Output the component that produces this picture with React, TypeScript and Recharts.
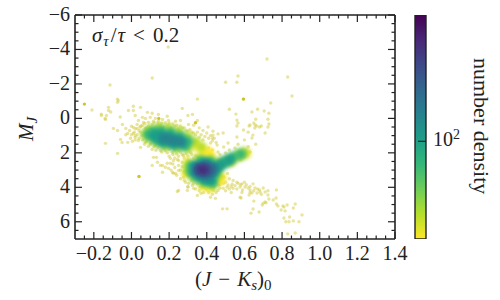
import { Bar, BarChart, Scatter, ScatterChart, XAxis, YAxis } from 'recharts';

const FONT = '"Liberation Serif", serif';
const INK = '#222222';

const xMajor = [-0.2, 0, 0.2, 0.4, 0.6, 0.8, 1, 1.2, 1.4];
const xMinor = [-0.25, -0.15, -0.1, -0.05, 0.05, 0.1, 0.15, 0.25, 0.3, 0.35, 0.45, 0.5, 0.55, 0.65, 0.7, 0.75, 0.85, 0.9, 0.95, 1.05, 1.1, 1.15, 1.25, 1.3, 1.35];
const yMajor = [-6, -4, -2, 0, 2, 4, 6];
const yMinor = [-5.5, -5, -4.5, -3.5, -3, -2.5, -1.5, -1, -0.5, 0.5, 1, 1.5, 2.5, 3, 3.5, 4.5, 5, 5.5, 6.5];

const viridisStops = ['#440154', '#482878', '#3e4989', '#31688e', '#26828e', '#1f9e89', '#35b779', '#6ece58', '#b5de2b', '#fde725'];
const colorbarRange = [40, 327];
const colorbarTicks = [100];

// scattered low density stars
const sparseStars = [
  [0.195, -4.14], [0.11, -2.34], [-0.114, -1.94], [0.5, -2.1], [0.566, -2.46], [0.56, -2.1], [0.595, -1.12], [0.35, -1.12], [-0.075, -1.12],
  [-0.21, -0.49], [-0.16, -0.25], [-0.14, 0], [-0.11, -0.37], [-0.06, -0.08], [0.72, -3.45], [0.83, -2.4], [0.853, -1.3], [0.74, -0.9],
  [0.52, -0.53], [0.555, -0.25], [0.64, -0.37], [0.67, -0.53], [0.705, -0.43], [0.73, -0.3], [0.56, 0.1], [0.66, 0.05], [0.725, 0.05],
  [0.566, 0.27], [0.65, 0.27], [0.73, 0.33], [0.56, 0.44], [0.625, 0.44], [0.665, 0.44], [0.69, 0.44], [0.725, 0.5], [0.655, 0.56],
  [0.63, 0.38], [0.657, 0.38], [0.68, 0.5], [0.62, 0.8], [0.645, 0.97], [0.71, 0.85], [0.595, 0.67], [0.64, 1.14], [0.56, 1.08], [0.6, 1.25],
  [0.566, 1.5], [0.513, 1.43], [0.66, 1.5], [0.62, 1.65], [0.433, 0.74], [0.46, 0.9], [0.487, 0.85], [0.407, 0.5], [0.433, 0.97], [0.43, 1.14],
  [0.41, 1.72], [0.43, 1.83], [0.46, 1.95], [0.5, 2.0], [0.52, 1.83], [0.55, 1.72], [0.47, 2.1], [0.54, 2.3], [0.58, 2.4], [0.6, 2.24],
  [0.63, 1.95], [0.49, 1.66], [0.455, 1.55], [0.42, 1.43],
  [0.587, 3.8], [0.603, 3.98], [0.577, 3.98], [0.646, 3.8], [0.656, 4.04], [0.63, 4.15], [0.64, 4.33], [0.667, 4.33], [0.683, 4.27], [0.71, 4.27],
  [0.7, 4.04], [0.725, 4.2], [0.62, 4.04], [0.67, 4.1], [0.582, 4.62], [0.625, 4.45], [0.65, 4.8], [0.725, 4.45], [0.73, 4.68], [0.753, 4.74],
  [0.768, 4.62], [0.77, 4.15], [0.71, 4.85], [0.7, 4.92], [0.715, 4.9], [0.695, 5.03], [0.646, 5.26], [0.635, 5.5], [0.678, 5.43], [0.77, 4.97],
  [0.778, 5.08], [0.805, 5.08], [0.81, 5.15], [0.827, 5.03], [0.87, 4.97], [0.86, 5.2], [0.795, 5.32], [0.816, 5.37], [0.906, 5.6], [0.81, 5.78],
  [0.84, 5.72], [0.82, 6.0], [0.837, 6.0], [0.86, 5.95], [0.89, 6.0], [0.83, 6.7], [0.87, 6.65],
  [-0.074, -0.93], [0.01, -0.7], [0.048, -0.64], [0.085, -0.35], [0.11, -0.3], [0.143, -0.23], [0.19, -0.12], [0.26, 0.12], [0.27, -0.58],
  [0.3, -0.17], [0.324, -0.23], [0.303, 0.35], [0.33, 0.4], [0.35, 0.12], [-0.016, -0.46], [0.02, -0.17], [0.058, -0.06], [0.074, 0], [0.1, -0.06],
  [0.127, 0], [0.165, 0.06], [0.064, 0.23], [0.037, 0.12], [0.09, 0.23], [0.117, 0.17], [0.143, 0.17], [0.197, 0.12], [0.234, 0.17], [-0.048, 0.35],
  [-0.03, 0.58], [-0.074, 0.7], [-0.096, 0.58], [-0.02, 0.87], [0.01, 0.52], [0.03, 0.58], [0.01, 0.87], [0.02, 1.1], [0.048, 0.81], [0.058, 0.4],
  [0.074, 0.58], [-0.02, 1.39], [-0.058, 1.22], [0.005, 1.33], [0.037, 1.28], [0.048, 1.68], [0.074, 1.39], [0.1, 1.45], [0.127, 1.57], [0.154, 1.86],
  [0.18, 1.86], [0.218, 1.97], [0.25, 1.86], [0.276, 2.15], [0.313, 1.97], [0.34, 2.15], [0.133, 2.26], [-0.138, 1.45], [-0.074, 2.03], [-0.133, -0.17],
  [-0.16, -0.17], [-0.122, -0.46],
  [0.165, 2.73], [0.18, 2.84], [0.165, 3.13], [0.197, 2.9], [0.207, 2.6], [0.223, 2.44], [0.218, 3.13], [0.234, 3.19], [0.25, 2.73], [0.25, 3.02],
  [0.207, 2.32], [0.244, 2.38], [0.27, 2.55], [0.276, 3.42], [0.287, 3.71], [0.303, 3.77], [0.324, 3.89], [0.297, 4.18], [0.35, 4.47], [0.42, 4.58],
  [0.446, 4.64], [0.244, 4.24], [0.33, 4.06], [0.383, 4.3], [0.41, 4.3], [0.436, 4.18], [0.46, 4.18], [0.488, 4.06], [0.508, 3.99], [0.535, 3.82],
  [0.566, 3.77], [0.587, 4.3], [0.577, 4.58], [0.63, 4.3], [0.484, 5.25], [0.508, 5.25], [0.513, 3.87], [0.54, 4.06], [0.488, 3.77], [0.46, 3.87],
  [0.367, 3.99], [0.393, 4.06], [0.33, 3.77], [0.117, 2.26], [0.138, 2.55], [0.11, 2.73], [0.154, 2.73], [0.19, 2.6], [0.223, 3.19], [0.25, 4.18],
  [0.3, 3.99], [-0.05, 1.4], [0.01, -0.46], [-0.07, -1.04], [-0.122, -0.64], [-0.138, 0.06],
  [0.03, 0.35], [0.05, 0.45], [0.07, 0.3], [0.09, 0.45], [0.11, 0.35], [0.13, 0.45], [0.15, 0.4], [0.17, 0.5], [0.19, 0.4], [0.21, 0.55], [0.23, 0.45],
  [0.25, 0.6], [0.27, 0.55], [0.29, 0.7], [0.31, 0.65], [0.33, 0.85], [0.35, 0.8], [0.37, 0.95], [0.39, 1.05], [0.41, 1.15], [0.43, 1.3], [0.45, 1.4],
  [0.36, 0.55], [0.38, 0.7], [0.4, 0.85], [0.42, 1.0], [0.44, 1.15], [0.02, 0.6], [0.04, 0.7], [-0.01, 0.7], [0, 0.95], [0.02, 1.0], [0.04, 1.15],
  [0.06, 1.25], [0.08, 1.35], [0.1, 1.5], [0.12, 1.65], [0.14, 1.7], [0.17, 1.75], [0.2, 1.8], [0.23, 1.85], [0.26, 1.95], [0.29, 2.05], [0.32, 2.1],
  [0.35, 2.25], [0.22, 2.1], [0.25, 2.2], [0.28, 2.3], [0.3, 2.4], [0.27, 2.8], [0.28, 3.1], [0.3, 2.6], [0.3, 3.3], [0.26, 3.0], [0.32, 3.6],
  [0.35, 3.8], [0.38, 3.9], [0.41, 4.0], [0.44, 3.95], [0.47, 3.85], [0.5, 3.7], [0.52, 3.5], [0.54, 3.6], [0.56, 3.7], [0.58, 3.85], [0.6, 3.7],
  [0.49, 3.4], [0.51, 3.2], [0.36, 4.2], [0.4, 4.15], [0.45, 4.3], [0.5, 4.2], [0.53, 4.3], [0.56, 4.1], [0.53, 3.95],
  // second pass over the busy rims
  [0.0, 0.45], [0.015, 0.8], [-0.03, 0.95], [-0.005, 1.15], [0.03, 0.95], [0.055, 1.0], [0.02, 1.25], [0.045, 0.5], [0.08, 0.55], [0.1, 0.6], [0.12, 0.25],
  [0.14, 0.3], [0.16, 0.28], [0.18, 0.25], [0.2, 0.3], [0.22, 0.32], [0.24, 0.4], [0.26, 0.45], [0.28, 0.55], [0.3, 0.75], [0.32, 0.8], [0.34, 0.95], [0.36, 1.1],
  [0.38, 1.25], [0.07, 1.5], [0.09, 1.62], [0.11, 1.8], [0.13, 1.85], [0.16, 1.95], [0.19, 2.0], [0.24, 2.05], [0.27, 2.1], [0.3, 2.2], [0.33, 2.3],
  [0.2, 2.2], [0.23, 2.3], [0.25, 2.45], [0.22, 2.65], [0.23, 2.85], [0.21, 3.0], [0.24, 3.3], [0.26, 3.5], [0.28, 3.6], [0.3, 3.95], [0.34, 4.1],
  [0.37, 4.35], [0.43, 4.4], [0.47, 4.05], [0.52, 4.1], [0.55, 3.9], [0.59, 4.15], [0.61, 3.85], [0.63, 3.95], [0.65, 4.2], [0.68, 4.15], [0.69, 4.4],
];
// the few stars that show up darker
const strongStars = [[-0.25, -0.83], [0.04, 3.37], [0.145, 0.0], [0.34, 0.25], [0.595, -1.12]];

// density surface, from the outer rim to the purple peak
const densityYellow = [
  [0.34, 1.6], [0.38, 1.8], [0.41, 1.95], [0.42, 2.15], [0.38, 2.05], [0.48, 3.45], [0.47, 3.65], [0.42, 4.05], [0.38, 3.95],
  [0.61, 2.05], [0.57, 2.2], [0.53, 2.5], [0.3, 2.55], [0.29, 3.2],
];
const densityLime = [
  [0.075, 0.9], [0.1, 0.65], [0.15, 0.55], [0.2, 0.6], [0.25, 0.75], [0.3, 1.05], [0.34, 1.35], [0.37, 1.65], [0.09, 1.1], [0.13, 1.35], [0.18, 1.6], [0.24, 1.72], [0.3, 1.75],
  [0.3, 2.75], [0.3, 3.05], [0.33, 3.45], [0.38, 3.75], [0.43, 3.85], [0.46, 2.75], [0.52, 2.45], [0.57, 2.15], [0.6, 1.98], [0.36, 2.35], [0.42, 2.45], [0.47, 2.55], [0.46, 3.3],
];
const densityGreen = [
  [0.09, 0.92], [0.12, 0.78], [0.16, 0.75], [0.21, 0.85], [0.26, 1.05], [0.3, 1.35], [0.13, 1.2], [0.17, 1.42], [0.23, 1.55], [0.28, 1.58],
  [0.32, 2.75], [0.32, 3.1], [0.35, 3.4], [0.39, 3.6], [0.43, 3.7], [0.46, 2.8], [0.5, 2.5], [0.54, 2.25], [0.58, 2.08], [0.37, 2.5], [0.42, 2.55], [0.44, 3.2],
];
const densityTeal = [
  [0.12, 1.0], [0.15, 0.98], [0.19, 1.05], [0.23, 1.2], [0.27, 1.38], [0.16, 1.28], [0.21, 1.42],
  [0.34, 2.8], [0.34, 3.1], [0.37, 3.35], [0.4, 3.5], [0.42, 3.55], [0.45, 2.85], [0.48, 2.65], [0.52, 2.42], [0.39, 2.6], [0.43, 3.1],
];
const densityCyan = [[0.17, 1.15], [0.2, 1.22], [0.23, 1.3], [0.26, 1.36], [0.35, 2.85], [0.35, 3.1], [0.38, 3.3], [0.41, 3.35], [0.44, 2.9], [0.4, 2.7]];
const densityBlue = [[0.36, 2.9], [0.36, 3.1], [0.39, 3.2], [0.42, 3.1], [0.42, 2.9], [0.39, 2.8]];
const densityIndigo = [[0.36, 2.95], [0.38, 3.05], [0.4, 3.0], [0.38, 2.9]];
const densityPurple = [[0.37, 2.97], [0.385, 3.0]];

const toPoints = (list: number[][]) => list.map(([x, y]) => ({ x, y }));

const densityLayers = [
  { name: 'yellow', points: densityYellow, color: viridisStops[9], r: 4.5 },
  { name: 'lime', points: densityLime, color: viridisStops[8], r: 5 },
  { name: 'green', points: densityGreen, color: viridisStops[6], r: 5.5 },
  { name: 'teal', points: densityTeal, color: viridisStops[5], r: 5.5 },
  { name: 'cyan', points: densityCyan, color: viridisStops[4], r: 5 },
  { name: 'blue', points: densityBlue, color: viridisStops[3], r: 5 },
  { name: 'indigo', points: densityIndigo, color: viridisStops[2], r: 4.5 },
  { name: 'purple', points: densityPurple, color: viridisStops[1], r: 3 },
];

const dot = (r: number, color: string, opacity: number, soft = false) => (props: any) => (
  <circle cx={props.cx} cy={props.cy} r={r} fill={color} fillOpacity={opacity} filter={soft ? 'url(#soft)' : undefined} />
);

// draws major and minor ticks pointing into the frame, label only on the outer major ones
const AxisTick = ({ x, y, payload, side }: any) => {
  const v = payload.value;
  const major = side === 'left' || side === 'right' ? yMajor.includes(v) : xMajor.includes(v);
  const len = major ? 7 : 3.5;
  const dx = side === 'left' ? len : side === 'right' ? -len : 0;
  const dy = side === 'bottom' ? -len : side === 'top' ? len : 0;
  const text = v < 0 ? `\u2212${Math.abs(v)}` : `${v}`;
  return (
    <g>
      <line x1={x} y1={y} x2={x + dx} y2={y + dy} stroke={INK} strokeWidth={1.2} />
      {major && side === 'bottom' && (
        <text x={x} y={y + 21} textAnchor="middle" fontFamily={FONT} fontSize={20} fill={INK}>
          {v < 0 ? `\u2212${Math.abs(v).toFixed(1)}` : v.toFixed(1)}
        </text>
      )}
      {major && side === 'left' && (
        <text x={x - 5} y={y + 6} textAnchor="end" fontFamily={FONT} fontSize={20} fill={INK}>
          {text}
        </text>
      )}
    </g>
  );
};

const ColorbarTick = ({ x, y }: any) => (
  <g>
    <line x1={x} y1={y} x2={x - 8} y2={y} stroke={INK} strokeWidth={1.2} />
    <text x={x + 7} y={y + 5} fontFamily={FONT} fontSize={20} fill={INK}>
      10<tspan dy={-7} fontSize={14}>2</tspan>
    </text>
  </g>
);

export default function App() {
  const axisTicksX = [...xMajor, ...xMinor];
  const axisTicksY = [...yMajor, ...yMinor];
  return (
    <div style={{ position: 'absolute', left: 0, top: 0, width: 500, height: 300, background: '#fff' }}>
      <div style={{ position: 'absolute', left: 0, top: 0 }}>
        <ScatterChart width={500} height={300} margin={{ top: 14, right: 104, bottom: 60, left: 74 }}>
          <defs>
            <filter id="soft" x="-100%" y="-100%" width="300%" height="300%">
              <feGaussianBlur stdDeviation={2} />
            </filter>
          </defs>
          <XAxis dataKey="x" type="number" domain={[-0.3, 1.4]} ticks={axisTicksX} interval={0} height={1} tickLine={false} tickSize={0} tickMargin={0}
            axisLine={{ stroke: INK, strokeWidth: 1.6 }} tick={<AxisTick side="bottom" />} allowDataOverflow />
          <XAxis xAxisId="top" orientation="top" dataKey="x" type="number" domain={[-0.3, 1.4]} ticks={axisTicksX} interval={0} height={1} tickLine={false} tickSize={0} tickMargin={0}
            axisLine={{ stroke: INK, strokeWidth: 1.6 }} tick={<AxisTick side="top" />} allowDataOverflow />
          <YAxis dataKey="y" type="number" reversed domain={[-6, 7]} ticks={axisTicksY} interval={0} width={1} tickLine={false} tickSize={0} tickMargin={0}
            axisLine={{ stroke: INK, strokeWidth: 1.6 }} tick={<AxisTick side="left" />} allowDataOverflow />
          <YAxis yAxisId="right" orientation="right" dataKey="y" type="number" reversed domain={[-6, 7]} ticks={axisTicksY} interval={0} width={1} tickLine={false} tickSize={0} tickMargin={0}
            axisLine={{ stroke: INK, strokeWidth: 1.6 }} tick={<AxisTick side="right" />} allowDataOverflow />
          <Scatter name="stars" data={toPoints(sparseStars)} shape={dot(1.7, '#cfc62a', 0.45)} isAnimationActive={false} />
          <Scatter name="strong stars" data={toPoints(strongStars)} shape={dot(1.7, '#c9c012', 0.9)} isAnimationActive={false} />
          {densityLayers.map((layer) => (
            <Scatter key={layer.name} name={layer.name} data={toPoints(layer.points)} shape={dot(layer.r, layer.color, 1, true)} isAnimationActive={false} />
          ))}
          <text x={92} y={42} fontFamily={FONT} fontSize={21} fill={INK}>
            <tspan fontStyle="italic">σ</tspan>
            <tspan fontStyle="italic" fontSize={15} dx={1} dy={4}>τ</tspan>
            <tspan dx={2} dy={-4}>/</tspan>
            <tspan dx={1} fontStyle="italic">τ</tspan>
            <tspan dx={8}>&lt;</tspan>
            <tspan dx={8}>0.2</tspan>
          </text>
          <text x={195} y={286} fontFamily={FONT} fontSize={21} fill={INK}>
            (<tspan fontStyle="italic">J</tspan>
            <tspan dx={7}>−</tspan>
            <tspan dx={7} fontStyle="italic">K</tspan>
            <tspan fontStyle="italic" fontSize={15} dy={4}>s</tspan>
            <tspan dy={-4}>)</tspan>
            <tspan fontSize={15} dy={4}>0</tspan>
          </text>
          <text transform="translate(33,141) rotate(-90)" fontFamily={FONT} fontSize={21} fill={INK}>
            <tspan fontStyle="italic">M</tspan>
            <tspan fontStyle="italic" fontSize={15} dy={4}>J</tspan>
          </text>
        </ScatterChart>
      </div>
      <div style={{ position: 'absolute', left: 0, top: 0 }}>
        <BarChart width={500} height={300} data={[{ name: 'density', range: colorbarRange }]} margin={{ top: 15, right: 73, bottom: 61, left: 415 }} barCategoryGap={0}>
          <defs>
            <linearGradient id="viridis" x1="0" y1="0" x2="0" y2="1">
              {viridisStops.map((c, i) => (
                <stop key={c} offset={i / (viridisStops.length - 1)} stopColor={c} />
              ))}
            </linearGradient>
          </defs>
          <XAxis dataKey="name" hide />
          <YAxis orientation="right" scale="log" type="number" domain={colorbarRange} ticks={colorbarTicks} width={1} axisLine={false} tickLine={false} tickSize={0} tickMargin={0} tick={<ColorbarTick />} allowDataOverflow />
          <Bar dataKey="range" fill="url(#viridis)" stroke={INK} strokeWidth={1.4} isAnimationActive={false} />
          <text transform="translate(474,58) rotate(90)" fontFamily={FONT} fontSize={22} fill={INK}>number density</text>
        </BarChart>
      </div>
    </div>
  );
}
